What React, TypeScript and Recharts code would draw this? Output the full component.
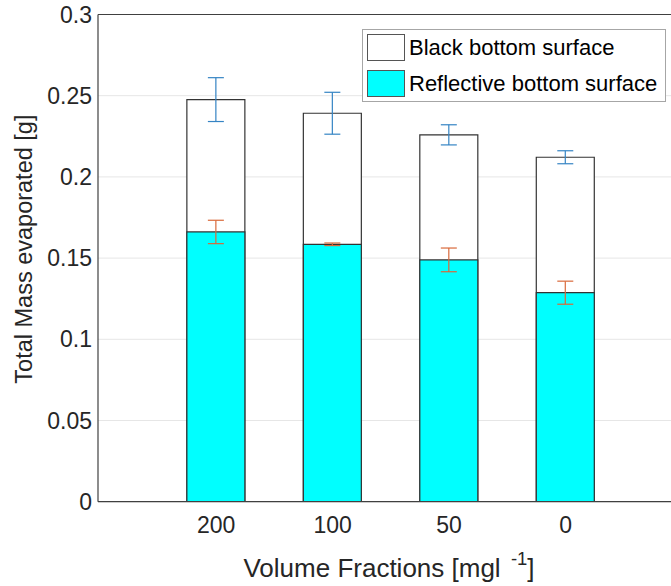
import React from 'react';
import {
  BarChart,
  Bar,
  XAxis,
  YAxis,
  CartesianGrid,
  ErrorBar,
  Legend,
  ReferenceLine,
} from 'recharts';

// Volume fraction groups (mg/l) along the x axis
const categories = ['200', '100', '50', '0'];
// Total mass evaporated [g], black bottom surface
const blackMeans = [0.2476, 0.2392, 0.2259, 0.2121];
const blackErr = [0.0135, 0.0129, 0.0062, 0.004];
// Total mass evaporated [g], reflective bottom surface
const reflMeans = [0.1661, 0.1585, 0.1489, 0.1287];
const reflErr = [0.0072, 0.0008, 0.0073, 0.0071];
// Y axis tick values
const yTicks = [0, 0.05, 0.1, 0.15, 0.2, 0.25, 0.3];
const xTicks = [1, 2, 3, 4];
const xDomain = [-0.014, 5];

const seriesNames = ['Black bottom surface', 'Reflective bottom surface'];

const data = categories.map((label, i) => ({
  pos: i + 1,
  label,
  black: blackMeans[i],
  blackErr: blackErr[i],
  refl: reflMeans[i],
  reflErr: reflErr[i],
}));

const FONT = '"Liberation Sans", Arial, Helvetica, sans-serif';
const AXIS = '#404040';
const TEXT = '#262626';

const renderLegend = (props: any) => {
  const payload = props.payload || [];
  return (
    <div
      style={{
        position: 'relative',
        width: 304,
        height: 73,
        boxSizing: 'border-box',
        border: '1px solid #a6a6a6',
        background: '#ffffff',
        fontFamily: FONT,
      }}
    >
      {payload.map((entry: any, i: number) => (
        <div key={entry.value} style={{ position: 'absolute', left: 0, top: i * 36, height: 36, width: 302 }}>
          <div
            style={{
              position: 'absolute',
              left: 4,
              top: 4,
              width: 38,
              height: 27,
              boxSizing: 'border-box',
              border: '1px solid #555555',
              background: entry.color,
            }}
          />
          <div
            style={{
              position: 'absolute',
              left: 46,
              top: 0,
              height: 35,
              lineHeight: '35px',
              fontSize: 22,
              color: '#000000',
              whiteSpace: 'nowrap',
            }}
          >
            {entry.value}
          </div>
        </div>
      ))}
    </div>
  );
};

const XLabel = (props: any) => {
  const vb = props.viewBox || { x: 0, y: 0, width: 0, height: 0 };
  const cx = vb.x + vb.width / 2 - 1;
  return (
    <text x={cx} y={576.7} textAnchor="middle" fill={TEXT} fontFamily={FONT} fontSize={26}>
      <tspan>Volume Fractions [mgl </tspan>
      <tspan fontSize={18.5} dx={3} dy={-12}>-1</tspan>
      <tspan dy={12}>]</tspan>
    </text>
  );
};

const YLabel = (props: any) => {
  const vb = props.viewBox || { x: 0, y: 0, width: 0, height: 0 };
  const x = vb.x + 32;
  const y = vb.y + vb.height / 2 - 9;
  return (
    <text
      x={x}
      y={y}
      transform={`rotate(-90, ${x}, ${y})`}
      textAnchor="middle"
      fill={TEXT}
      fontFamily={FONT}
      fontSize={23.5}
    >
      Total Mass evaporated [g]
    </text>
  );
};

export default function App() {
  return (
    <div
      style={{
        position: 'absolute',
        left: 0,
        top: 0,
        width: 671,
        height: 586,
        overflow: 'hidden',
        background: '#ffffff',
      }}
    >
      <BarChart
        width={682}
        height={586}
        data={data}
        margin={{ top: 14.5, right: 0, bottom: 0, left: 0 }}
      >
        <CartesianGrid horizontal vertical={false} stroke="#e6e6e6" />
        <XAxis
          xAxisId="main"
          dataKey="pos"
          type="number"
          domain={xDomain}
          ticks={xTicks}
          allowDataOverflow
          tickFormatter={(v: number) => categories[v - 1] ?? ''}
          tickLine={false}
          tickSize={0}
          tickMargin={15}
          height={84.3}
          axisLine={{ stroke: AXIS, strokeWidth: 1.2 }}
          tick={{ fill: TEXT, fontFamily: FONT, fontSize: 23 }}
          label={<XLabel />}
        />
        <XAxis xAxisId="overlay" dataKey="pos" type="number" domain={xDomain} allowDataOverflow hide />
        <YAxis
          type="number"
          domain={[0, 0.3]}
          ticks={yTicks}
          allowDataOverflow
          width={98}
          tickLine={false}
          tickSize={0}
          tickMargin={6}
          axisLine={{ stroke: AXIS, strokeWidth: 1.2 }}
          tick={{ fill: TEXT, fontFamily: FONT, fontSize: 23 }}
          tickFormatter={(v: number) => String(v)}
          label={<YLabel />}
        />
        <ReferenceLine y={0.3} xAxisId="main" stroke={AXIS} strokeWidth={1.2} />
        <Bar
          xAxisId="main"
          dataKey="black"
          name={seriesNames[0]}
          fill="#ffffff"
          stroke="#333333"
          strokeWidth={1.2}
          barSize={58}
          isAnimationActive={false}
        >
          <ErrorBar dataKey="blackErr" direction="y" width={8} stroke="#3584c4" strokeWidth={1.2} isAnimationActive={false} />
        </Bar>
        <Bar
          xAxisId="overlay"
          dataKey="refl"
          name={seriesNames[1]}
          fill="#00ffff"
          stroke="#333333"
          strokeWidth={1.2}
          barSize={58}
          isAnimationActive={false}
        >
          <ErrorBar dataKey="reflErr" direction="y" width={8} stroke="#d9693a" strokeWidth={1.2} isAnimationActive={false} />
        </Bar>
        <Legend
          layout="vertical"
          align="center"
          verticalAlign="middle"
          wrapperStyle={{ position: 'absolute', left: 362, top: 29, width: 304, height: 73 }}
          content={renderLegend}
        />
      </BarChart>
    </div>
  );
}
